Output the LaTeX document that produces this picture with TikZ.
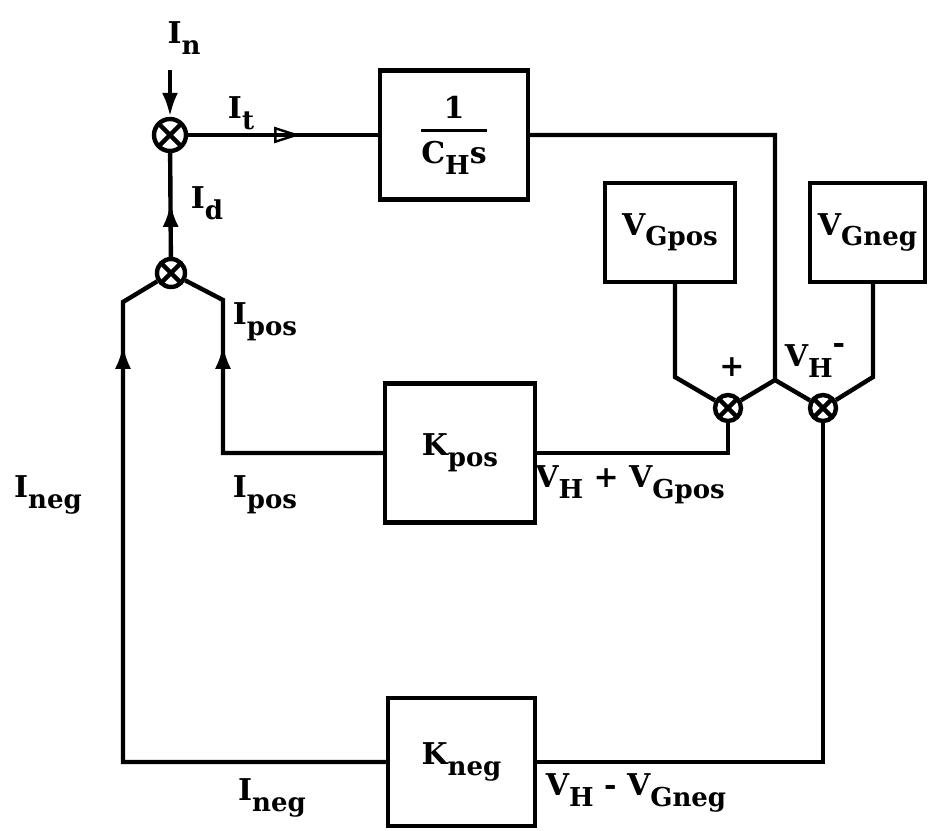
\documentclass[tikz,border=0pt]{standalone}
\usepackage{fontspec}
\setmainfont{DejaVu Serif}
\usetikzlibrary{arrows.meta,decorations.markings,calc}
\newcommand{\sbs}[1]{\raisebox{-0.35em}{\fontsize{13}{13}\selectfont #1}}
\begin{document}
\begin{tikzpicture}[x=0.5pt,y=-0.5pt,
  every node/.style={font=\fontsize{15}{17}\selectfont\bfseries},
  lw/.style={line width=2.2pt},
  blk/.style={draw, lw, rectangle, inner sep=0pt},
  sumj/.style={circle, draw, lw, inner sep=0pt, minimum size=#1,
    path picture={\draw[line width=2.2pt] (path picture bounding box.north west) -- (path picture bounding box.south east) (path picture bounding box.north east) -- (path picture bounding box.south west);}},
  conn/.style={lw, line join=miter},
  lbl/.style={inner sep=0pt},
  tipat/.style={postaction={decorate}, decoration={markings, mark=at position #1 with {\arrow{Latex[length=12pt,width=8pt]}}}},
  opentipat/.style={postaction={decorate}, decoration={markings, mark=at position #1 with {\arrow[line width=1.2pt]{Triangle[open,length=13pt,width=8pt]}}}},
]
\useasboundingbox (0,0) rectangle (931,830);

% blocks
\node[blk, minimum width=74pt, minimum height=64.5pt] (hb) at (454,135) {$\displaystyle{\mbox{1}\above 1.6pt \mbox{C\sbs{H}s}}$};
\node[blk, minimum width=75pt, minimum height=69.5pt] (kpos) at (460,453) {K\sbs{pos}};
\node[blk, minimum width=73.5pt, minimum height=64pt] (kneg) at (461.5,762) {K\sbs{neg}};
\node[blk, minimum width=65pt, minimum height=49.5pt] (vgpos) at (670,232.5) {V\sbs{Gpos}};
\node[blk, minimum width=57.5pt, minimum height=49.5pt] (vgneg) at (867.5,232.5) {V\sbs{Gneg}};

% summing junctions
\node[sumj=16pt] (j1) at (170,135) {};
\node[sumj=14pt] (j2) at (171,273) {};
\node[sumj=13pt] (jp) at (728,408) {};
\node[sumj=13pt] (jn) at (823,408) {};

% corner coordinates
\coordinate (nin) at (170,70);
\coordinate (cl1) at (123,762);
\coordinate (cl2) at (123,302);
\coordinate (cr1) at (223,453);
\coordinate (cr2) at (223,300);
\coordinate (vh) at (775,380);
\coordinate (cgp) at (675,377);
\coordinate (cgn) at (873,377);

% connectors
\draw[conn, -{Latex[length=12pt,width=8pt]}] (nin) -- (j1);
\draw[conn, opentipat=56pt] (j1) -- (hb.west |- j1);
\draw[conn, tipat=27pt] (j2) -- (j1);
\draw[conn, tipat=340pt] (kneg.west) -- (cl1) -- (cl2) -- (j2);
\draw[conn, tipat=134pt] (kpos.west) -- (cr1) -- (cr2) -- (j2);
\draw[conn] (hb.east) -- (hb.east -| vh) -- (vh) -- (jp);
\draw[conn] (vh) -- (jn);
\draw[conn] (cgp |- vgpos.south) -- (cgp) -- (jp);
\draw[conn] (cgn |- vgneg.south) -- (cgn) -- (jn);
\draw[conn] (jp) -- (jp |- kpos) -- (kpos.east);
\draw[conn] (jn) -- (jn |- kneg) -- (kneg.east);

% labels
\node[lbl] (lin) at (184,38) {I\sbs{n}};
\node[lbl] (lit) at (241,113) {I\sbs{t}};
\node[lbl] (lid) at (207,203) {I\sbs{d}};
\node[lbl] (lip1) at (265,322) {I\sbs{pos}};
\node[lbl] (lip2) at (265,495) {I\sbs{pos}};
\node[lbl] (lin1) at (48,495) {I\sbs{neg}};
\node[lbl] (lin2) at (272,798) {I\sbs{neg}};
\node[lbl] (lvp) at (630,485) {V\sbs{H} + V\sbs{Gpos}};
\node[lbl] (lvn) at (636,793) {V\sbs{H} - V\sbs{Gneg}};
\node[lbl] (lplus) at (732,367) {+};
\node[lbl] (lvh) at (815,360) {V\sbs{H}\raisebox{0.45em}{-}};
\end{tikzpicture}
\end{document}
